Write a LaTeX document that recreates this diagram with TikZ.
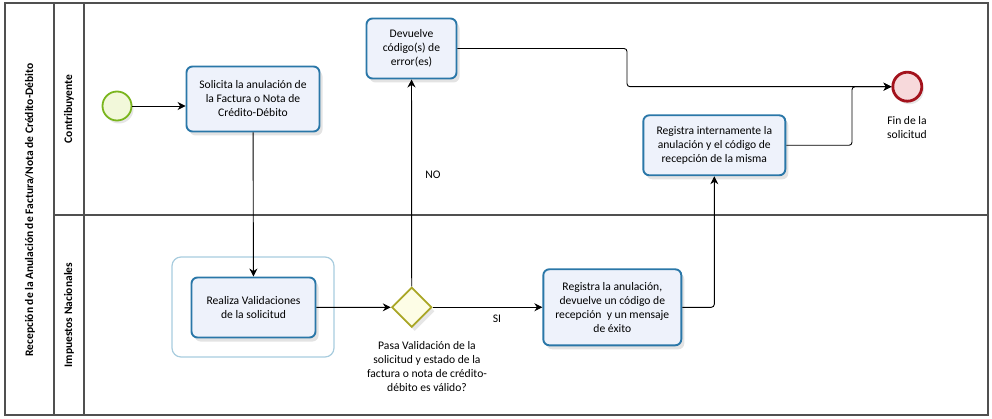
\documentclass[tikz,border=0pt]{standalone}
\usepackage{fontspec}
\setmainfont{Carlito}
\usetikzlibrary{arrows.meta,shadows,shapes.geometric}
\definecolor{taskline}{HTML}{2A77A8}
\definecolor{taskfill}{HTML}{EEF2FB}
\definecolor{startline}{HTML}{7AB51D}
\definecolor{startfill}{HTML}{F2F8DA}
\definecolor{endline}{HTML}{A3121C}
\definecolor{endfill}{HTML}{F7D9DB}
\definecolor{gwline}{HTML}{A9A625}
\definecolor{gwfill}{HTML}{FDFDE6}
\definecolor{grpline}{HTML}{A8CCDE}
\definecolor{poolline}{HTML}{505050}
\tikzset{
  task/.style={draw=taskline,fill=taskfill,line width=1.9pt,rounded corners=6pt,
    align=center,inner sep=2pt,font=\fontsize{11.6}{14}\selectfont,
    drop shadow={opacity=0.22,shadow xshift=3pt,shadow yshift=-4pt}},
  flow/.style={line width=0.9pt,-{Stealth[length=8pt,width=8pt]}},
  lbl/.style={align=center,font=\fontsize{11.6}{14}\selectfont},
  lanelbl/.style={rotate=90,font=\bfseries\fontsize{11.5}{13}\selectfont}
}
\begin{document}
\begin{tikzpicture}[x=1pt,y=-1pt]
\useasboundingbox (0,0) rectangle (992,419);
\draw[poolline,line width=1.2pt] (5,3) rectangle (988,415);
  \draw[poolline,line width=1.2pt] (54,3) -- (54,415);
  \draw[poolline,line width=1.2pt] (84,3) -- (84,415);
  \draw[poolline,line width=1.2pt] (54,215) -- (988,215);
\node[lanelbl] (pool) at (30,210) {Recepción de la Anulación de Factura/Nota de Crédito-Débito};
\node[lanelbl] (lanec) at (69,109) {Contribuyente};
\node[lanelbl] (lanei) at (69,315) {Impuestos Nacionales};
  \draw[grpline,line width=1.2pt,rounded corners=9pt] (172,257) rectangle (334,357);
  \node[circle,draw=startline,fill=startfill,line width=1.8pt,minimum size=29pt,inner sep=0pt,
    drop shadow={opacity=0.2,shadow xshift=2pt,shadow yshift=-3pt}] (start) at (117,106) {};
  \node[task,minimum width=133pt,minimum height=65pt] (solicita) at (253,99)
    {Solicita la anulación de\\la Factura o Nota de\\Crédito-Débito};
  \node[task,minimum width=124pt,minimum height=60pt] (valida) at (253.5,307.5)
    {Realiza Validaciones\\de la solicitud};
  \node[diamond,draw=gwline,fill=gwfill,line width=1.8pt,minimum size=40pt,inner sep=0pt,
    drop shadow={opacity=0.2,shadow xshift=3pt,shadow yshift=-4pt}] (gw) at (411.7,307.3) {};
  \node[lbl] (gwtxt) at (427,367) {Pasa Validación de la\\solicitud y estado de la\\factura o nota de crédito-\\débito es válido?};
  \node[task,minimum width=90pt,minimum height=60pt] (devuelve) at (411.5,48.5)
    {Devuelve\\código(s) de\\error(es)};
  \node[task,minimum width=138pt,minimum height=76pt] (registra) at (612.3,307.3)
    {Registra la anulación,\\devuelve un código de\\recepción \ y un mensaje\\de éxito};
  \node[task,minimum width=142pt,minimum height=60pt] (interna) at (714.3,145.3)
    {Registra internamente la\\anulación y el código de\\recepción de la misma};
  \node[circle,draw=endline,fill=endfill,line width=2.8pt,minimum size=29pt,inner sep=0pt,
    drop shadow={opacity=0.2,shadow xshift=2pt,shadow yshift=-3pt}] (fin) at (907.3,86.7) {};
  \node[lbl] (fintxt) at (907,128) {Fin de la\\solicitud};
  \node[lbl] (no) at (433,175) {NO};
  \node[lbl] (si) at (497,319) {SI};
  \coordinate (bendA) at (627,0);
  \coordinate (bendB) at (852,0);
  \draw[flow] (start) -- (solicita.west |- start);
  \draw[flow] (solicita) -- (valida);
  \draw[flow] (valida) -- (gw.west);
  \draw[flow] (gw.north) -- (devuelve);
  \draw[flow] (gw.east) -- (registra);
  \draw[flow,rounded corners=3pt] (registra.east) -| (interna.south);
  \draw[flow,rounded corners=3pt] (devuelve.east) -| (bendA |- fin.west) -- (fin.west);
  \draw[flow,rounded corners=3pt] (interna.east) -| (bendB |- fin.west) -- (fin.west);
\end{tikzpicture}
\end{document}
